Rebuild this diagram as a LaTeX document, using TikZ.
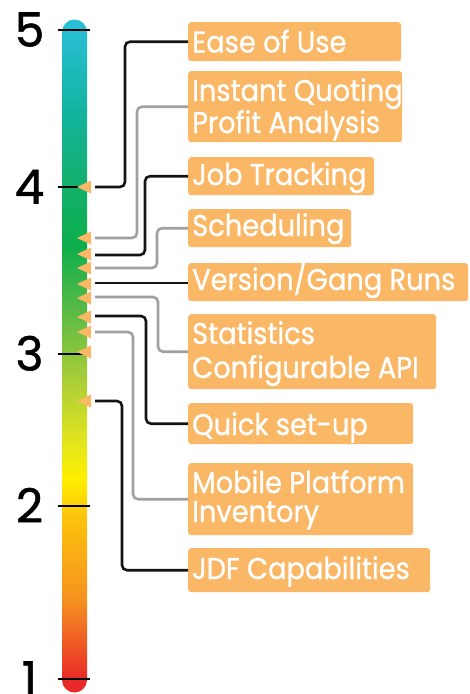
\documentclass[tikz,border=0pt]{standalone}
\usepackage{fontspec}
\newfontfamily\boxfont{Poppins}[FakeStretch=0.91,FakeBold=0.8]
\newfontfamily\numfont{Poppins}[FakeBold=1.2]
\definecolor{boxor}{RGB}{250,184,102}
\definecolor{lineblk}{RGB}{20,20,20}
\definecolor{linegry}{RGB}{160,160,162}
\definecolor{g0}{RGB}{40,190,212}
\definecolor{g1}{RGB}{18,180,160}
\definecolor{g2}{RGB}{20,176,110}
\definecolor{g3}{RGB}{12,174,76}
\definecolor{g4}{RGB}{90,186,70}
\definecolor{g5}{RGB}{170,206,56}
\definecolor{g6}{RGB}{225,228,30}
\definecolor{g7}{RGB}{255,240,0}
\definecolor{g8}{RGB}{253,196,12}
\definecolor{g9}{RGB}{245,145,32}
\definecolor{g10}{RGB}{233,40,40}
\begin{document}
\begin{tikzpicture}[x=1pt,y=-1pt,
  blk/.style={draw=lineblk, line width=2.6pt, rounded corners=5pt},
  gry/.style={draw=linegry, line width=2.6pt, rounded corners=5pt},
  tickline/.style={draw=black, line width=2.4pt},
  boxst/.style n args={2}{fill=boxor, rounded corners=3pt, anchor=north west, minimum width=#1, minimum height=#2, inner sep=0pt},
  txt/.style={anchor=base west, inner sep=0pt, text=white, font=\boxfont\fontsize{30}{30}\selectfont},
  num/.style={anchor=base, inner sep=0pt, font=\numfont\fontsize{47}{47}\selectfont},
  tri/.style={fill=boxor}]
\useasboundingbox (0,0) rectangle (470,694);
% bar
\fill[g0] (74.5,32) circle (12.5);
\fill[g10] (74.5,680) circle (12.5);
\foreach \ya/\ca/\yb/\cb in {30/g0/110/g1,110/g1/180/g2,180/g2/245/g3,245/g3/310/g4,310/g4/380/g5,380/g5/440/g6,440/g6/478/g7,478/g7/515/g8,515/g8/600/g9,600/g9/680/g10}
  {\fill[top color=\ca, bottom color=\cb] (62,\ya) rectangle (87,\yb+0.6);}
% ticks and numbers
\foreach \ty/\lab in {30/5,187/4,354/3,506/2,679/1}
  {\draw[tickline] (58,\ty) -- (90,\ty);
   \node[num] (n\lab) at (29.5,\ty+16.5) {\lab};}
% markers
\foreach \ty in {187,238,254,268,284,298,317,332,352,401}
  {\fill[tri] (77,\ty) -- (91,\ty-6.5) -- (91,\ty+6.5) -- cycle;}
% boxes
\node[boxst={213pt}{39pt}] (b1) at (188,22) {};
\node[boxst={214pt}{71pt}] (b2) at (188,71) {};
\node[boxst={186pt}{38pt}] (b3) at (188,157) {};
\node[boxst={163pt}{38pt}] (b4) at (188,209) {};
\node[boxst={280pt}{38pt}] (b5) at (188,263) {};
\node[boxst={248pt}{75pt}] (b6) at (188,314) {};
\node[boxst={225pt}{41pt}] (b7) at (188,403) {};
\node[boxst={225pt}{72pt}] (b8) at (188,463) {};
\node[boxst={242pt}{44pt}] (b9) at (188,548) {};
% texts
\node[txt] (t1) at (192,52.5) {Ease of Use};
\node[txt] (t2a) at (192,101) {Instant Quoting};
\node[txt] (t2b) at (192,133) {Profit Analysis};
\node[txt] (t3) at (192,185) {Job Tracking};
\node[txt] (t4) at (192,236) {Scheduling};
\node[txt] (t5) at (192,290) {Version/Gang Runs};
\node[txt] (t6a) at (192,344) {Statistics};
\node[txt] (t6b) at (192,378) {Configurable API};
\node[txt] (t7) at (192,435) {Quick set-up};
\node[txt] (t8a) at (192,493) {Mobile Platform};
\node[txt] (t8b) at (192,522) {Inventory};
\node[txt] (t9) at (192,579) {JDF Capabilities};
% connector start points and bend columns
\coordinate (s1) at (95,187);
\coordinate (s2) at (95,238);
\coordinate (s3) at (95,255);
\coordinate (s4) at (95,268);
\coordinate (s5) at (95,283);
\coordinate (s6) at (95,297);
\coordinate (s7) at (95,316);
\coordinate (s8) at (95,332);
\coordinate (s9) at (95,401);
\coordinate (v1) at (125,0);
\coordinate (v2) at (137,0);
\coordinate (v3) at (145,0);
\coordinate (v4) at (157,0);
\coordinate (v6) at (158,0);
\coordinate (v7) at (146,0);
\coordinate (v8) at (133,0);
\coordinate (v9) at (122,0);
% connectors
\draw[blk] (s1) -| (v1 |- b1.west) -- (b1.west);
\draw[gry] (s2) -| (v2 |- b2.west) -- (b2.west);
\draw[blk] (s3) -| (v3 |- b3.west) -- (b3.west);
\draw[gry] (s4) -| (v4 |- b4.west) -- (b4.west);
\draw[blk, rounded corners=0pt] (s5) -- (s5 -| b5.west);
\draw[gry] (s6) -| (v6 |- b6.west) -- (b6.west);
\draw[blk] (s7) -| (v7 |- b7.west) -- (b7.west);
\draw[gry] (s8) -| (v8 |- b8.west) -- (b8.west);
\draw[blk] (s9) -| (v9 |- b9.west) -- (b9.west);
\end{tikzpicture}
\end{document}
